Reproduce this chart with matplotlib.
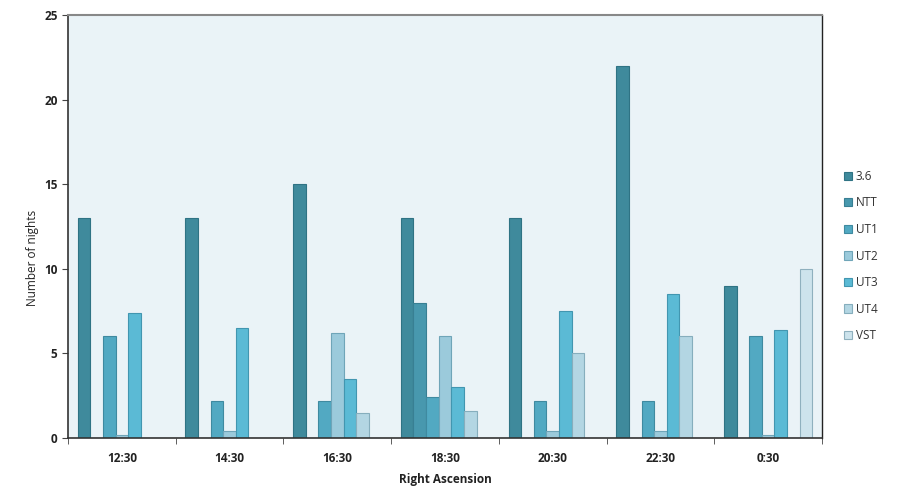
import numpy as np
import matplotlib
matplotlib.use("Agg")
import matplotlib.pyplot as plt

categories = ["12:30", "14:30", "16:30", "18:30", "20:30", "22:30", "0:30"]
series_names = ["3.6", "NTT", "UT1", "UT2", "UT3", "UT4", "VST"]
v_36  = [13, 13, 15, 13, 13, 22, 9]
v_ntt = [0, 0, 0, 8, 0, 0, 0]
v_ut1 = [6, 2.2, 2.2, 2.4, 2.2, 2.2, 6]
v_ut2 = [0.2, 0.4, 6.2, 6, 0.4, 0.4, 0.2]
v_ut3 = [7.4, 6.5, 3.5, 3, 7.5, 8.5, 6.4]
v_ut4 = [0, 0, 1.5, 1.6, 5, 6, 0]
v_vst = [0, 0, 0, 0, 0, 0, 10]
values = [v_36, v_ntt, v_ut1, v_ut2, v_ut3, v_ut4, v_vst]

colors = ["#3f8a9c", "#4898ae", "#52a9c2", "#9bcadb", "#5bbad5", "#b3d6e3", "#cde3ec"]
edges = ["#2f7384", "#387f93", "#3f8aa0", "#6fa5b8", "#4296b0", "#86aebd", "#8fb0be"]

plt.rcParams['font.family'] = ['Open Sans', 'DejaVu Sans']

fig = plt.figure(figsize=(9, 5.01), dpi=100)
ax = fig.add_axes([68/900, 63/501, (822-68)/900, (438-15)/501])
ax.set_facecolor("#eaf3f7")

x = np.arange(len(categories))
w = 0.117
for i, (name, vals) in enumerate(zip(series_names, values)):
    ax.bar(x + (i - 3) * w, vals, width=w, color=colors[i], edgecolor=edges[i],
           linewidth=0.8, label=name)

ax.set_xlim(-0.5, len(categories) - 0.5)
ax.set_ylim(0, 25)
ax.set_yticks([0, 5, 10, 15, 20, 25])
ax.set_xticks(x)
ax.set_xticklabels(categories)
ax.set_xticks(np.arange(-0.5, len(categories)), minor=True)
ax.tick_params(axis='x', which='major', length=0, pad=10, labelsize=8.5)
ax.tick_params(axis='x', which='minor', length=4, direction='out', color='#444444')
ax.tick_params(axis='y', length=4, direction='out', labelsize=8.5, color='#444444')
for lbl in ax.get_xticklabels() + ax.get_yticklabels():
    lbl.set_fontweight('bold')
    lbl.set_color('#222222')

for s in ['left', 'bottom']:
    ax.spines[s].set_color('#333333')
    ax.spines[s].set_linewidth(1.2)
ax.spines['right'].set_color('#222222')
ax.spines['right'].set_linewidth(1.0)
ax.spines['top'].set_color('#888888')
ax.spines['top'].set_linewidth(1.5)

ax.set_xlabel("Right Ascension", fontsize=8.5, fontweight='bold', color='#222222', labelpad=6)
ax.set_ylabel("Number of nights", fontsize=8.5, color='#222222')
ax.yaxis.set_label_coords(-0.038, 0.425)

leg = ax.legend(loc='center left', bbox_to_anchor=(1.015, 0.43), frameon=False,
                fontsize=8.5, handlelength=0.7, handleheight=0.7, handletextpad=0.3,
                labelspacing=1.15)
for t in leg.get_texts():
    t.set_color('#333333')

fig.savefig("out.png", dpi=100, facecolor='white')
